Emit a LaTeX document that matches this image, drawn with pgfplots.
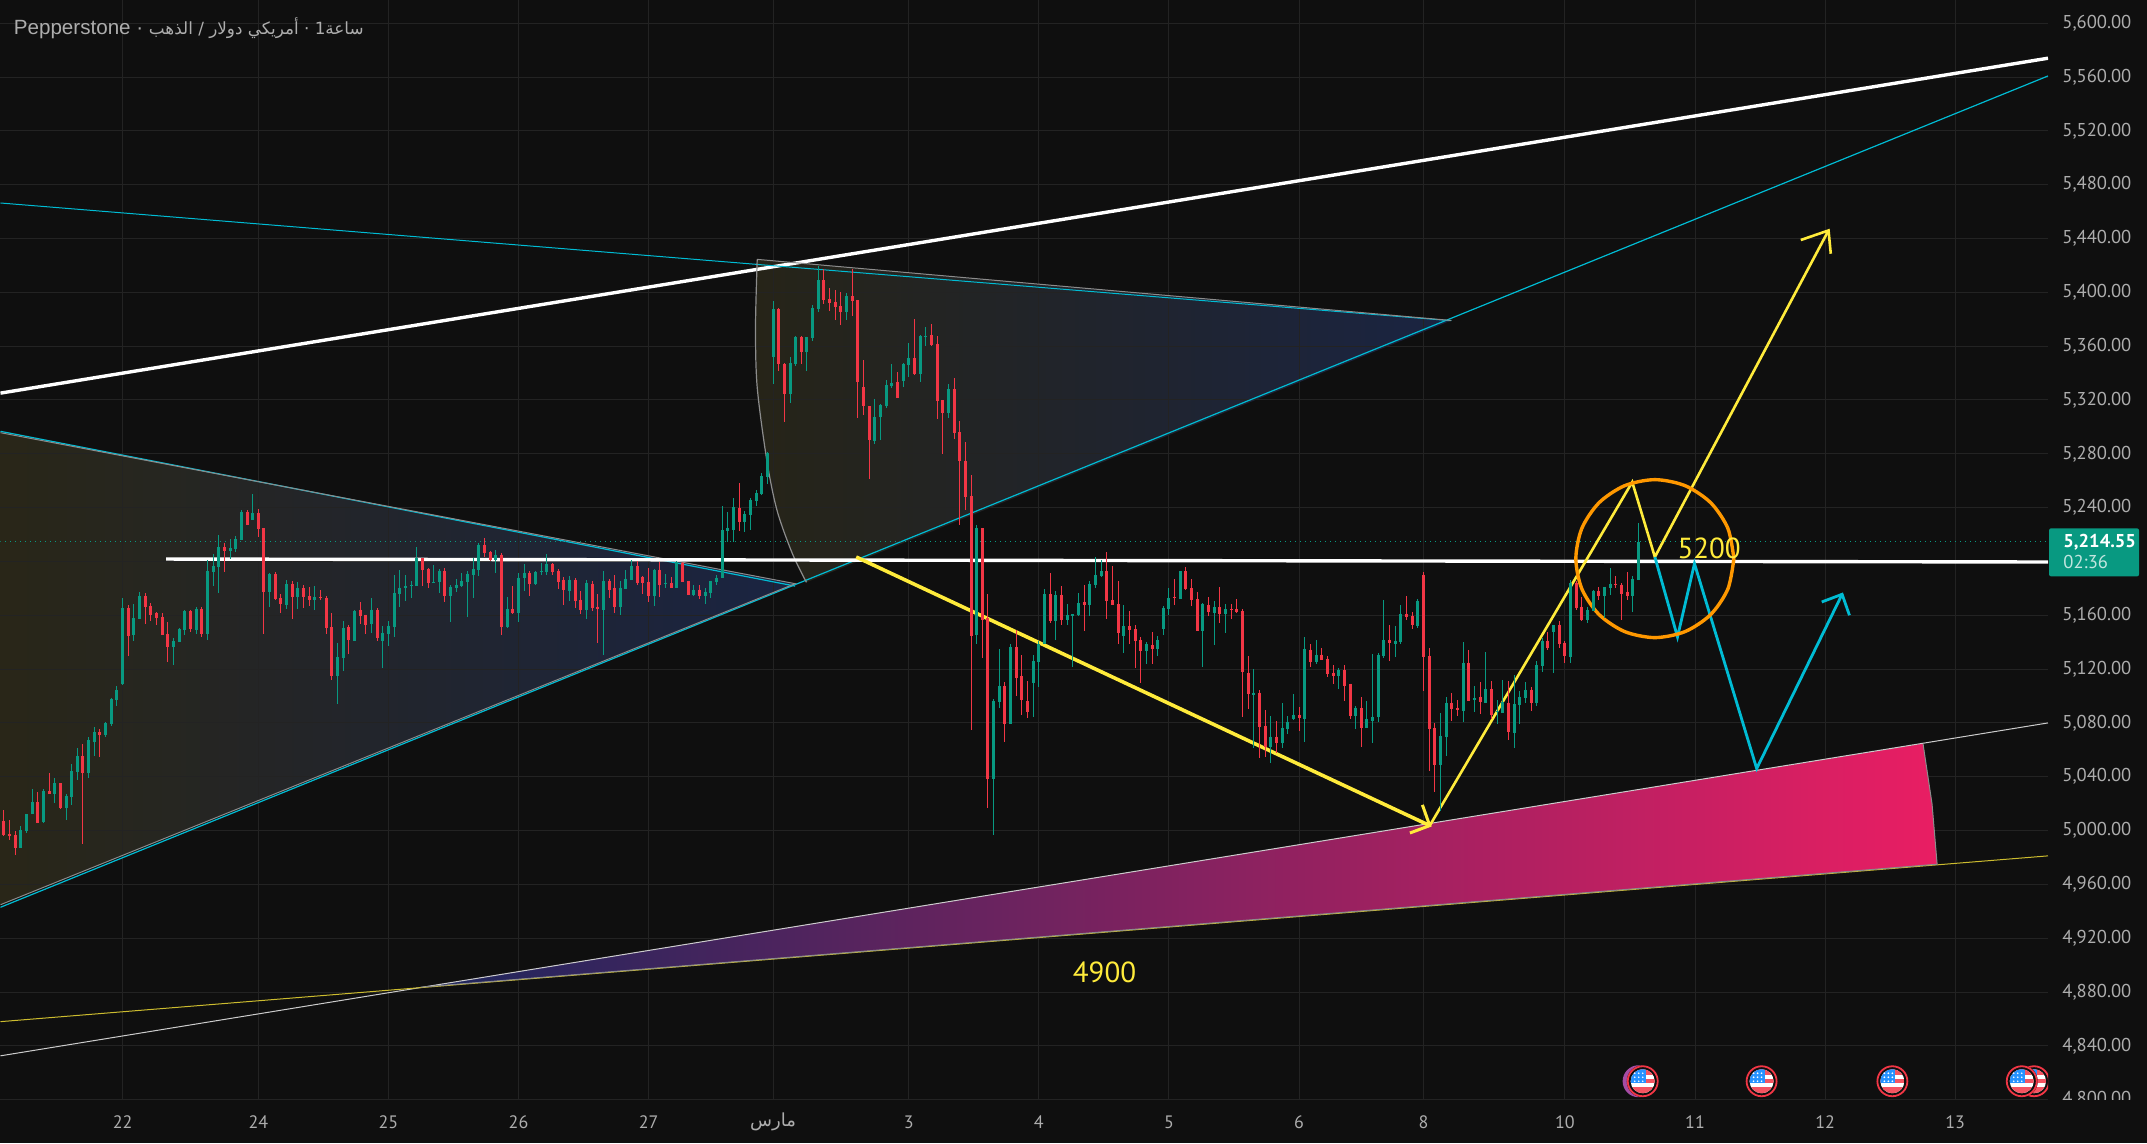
\documentclass[border=0pt]{standalone}
\usepackage{fontspec}
\usepackage{pgfplots}
\usepackage{pgfplotstable}
\pgfplotsset{compat=1.18}
\setmainfont{PT Sans}
\newfontfamily\titlefont{Liberation Sans}
\newfontfamily\arabicfont[Script=Arabic]{DejaVu Sans}
\TeXXeTstate=1
\definecolor{bg}{HTML}{0F0F0F}
\definecolor{gridc}{HTML}{232323}
\definecolor{cup}{HTML}{089981}
\definecolor{cdn}{HTML}{F23645}
\definecolor{lbl}{HTML}{ADADAD}
\definecolor{cyanl}{HTML}{00BCD4}
\definecolor{yel}{HTML}{FFEB3B}
\definecolor{grayl}{HTML}{8C8C8C}
\definecolor{orangel}{HTML}{FF9800}

% hourly candles: bar, up(1)/down(0), high, body top, body bottom, low
\pgfplotstableread{
i d h t b l
0 0 5015.1 5006.9 4996.5 4995.8
1 0 5007.6 4997.2 4995.8 4992.8
2 0 4999.5 4996.5 4987.1 4981.6
3 1 5003.2 5000.2 4987.3 4986.8
4 1 5012.1 5012.1 4999.5 4998.2
5 1 5030.7 5021.0 5012.1 5012.1
6 0 5028.5 5021.0 5005.7 5005.4
7 1 5030.7 5029.2 5006.2 5005.4
8 0 5042.6 5029.2 5027.0 5027.0
9 1 5038.9 5035.1 5027.0 5020.3
10 0 5035.1 5035.1 5016.6 5015.8
11 1 5027.0 5025.5 5016.6 5007.6
12 1 5049.3 5044.1 5024.7 5018.8
13 1 5061.1 5055.2 5043.3 5037.4
14 0 5064.1 5055.2 5042.6 4989.8
15 1 5069.3 5067.1 5042.6 5038.9
16 1 5076.8 5073.0 5065.6 5055.2
17 0 5075.3 5073.0 5070.8 5054.5
18 1 5080.5 5079.7 5070.8 5069.3
19 1 5098.3 5097.6 5079.0 5077.5
20 1 5107.2 5104.3 5096.8 5092.4
21 1 5172.6 5165.2 5108.7 5108.0
22 0 5167.4 5165.2 5144.4 5129.5
23 1 5168.2 5157.8 5145.1 5140.7
24 1 5177.1 5174.1 5157.0 5157.0
25 0 5176.3 5174.1 5166.0 5153.3
26 0 5168.9 5166.7 5160.0 5155.5
27 0 5162.2 5161.5 5157.8 5152.5
28 0 5161.5 5158.5 5145.1 5145.1
29 0 5154.8 5145.9 5136.2 5125.1
30 1 5142.9 5140.7 5136.2 5122.8
31 1 5150.3 5149.6 5139.9 5139.9
32 1 5163.7 5163.0 5148.8 5145.1
33 0 5163.7 5163.0 5149.6 5147.4
34 1 5165.9 5164.4 5148.8 5145.9
35 0 5165.9 5164.4 5145.9 5143.6
36 1 5200.9 5192.7 5145.9 5141.4
37 1 5205.3 5196.4 5191.9 5181.5
38 1 5219.4 5210.5 5195.6 5176.3
39 0 5213.5 5210.5 5207.5 5191.9
40 1 5216.5 5209.8 5207.5 5201.6
41 1 5218.7 5216.5 5209.0 5206.8
42 1 5238.0 5236.5 5215.7 5215.7
43 0 5238.0 5236.5 5226.9 5226.9
44 1 5249.9 5235.8 5230.6 5230.6
45 0 5238.7 5235.8 5223.9 5217.9
46 0 5224.6 5224.6 5177.1 5145.9
47 1 5191.2 5190.4 5177.1 5165.9
48 0 5191.9 5190.4 5171.9 5171.1
49 0 5175.6 5172.6 5168.2 5161.5
50 1 5186.0 5183.0 5167.4 5164.4
51 0 5185.2 5183.0 5173.4 5157.0
52 1 5184.5 5180.0 5173.4 5164.4
53 0 5182.3 5180.0 5173.4 5165.2
54 0 5180.8 5174.1 5171.1 5166.7
55 1 5181.5 5173.4 5171.1 5163.7
56 0 5178.6 5173.4 5172.6 5171.1
57 0 5174.1 5172.6 5150.3 5145.9
58 0 5161.5 5151.1 5114.6 5111.7
59 1 5139.2 5128.8 5114.6 5093.8
60 1 5155.5 5150.3 5128.0 5118.4
61 0 5152.5 5151.1 5141.4 5131.0
62 1 5163.9 5163.4 5141.1 5141.1
63 0 5170.1 5164.2 5159.7 5153.8
64 0 5160.5 5160.5 5153.0 5146.3
65 1 5173.1 5164.2 5153.8 5147.1
66 0 5165.4 5164.2 5143.4 5141.1
67 1 5152.3 5147.1 5141.1 5121.1
68 1 5156.0 5152.3 5146.3 5137.4
69 1 5190.2 5176.8 5151.5 5144.1
70 1 5193.9 5180.5 5176.0 5166.4
71 1 5190.2 5182.0 5180.5 5170.9
72 1 5185.7 5182.7 5182.0 5173.1
73 1 5211.0 5202.6 5182.0 5182.0
74 0 5202.6 5202.6 5193.9 5182.0
75 0 5195.4 5194.6 5184.2 5180.5
76 1 5197.6 5185.0 5184.2 5184.2
77 1 5194.6 5193.1 5185.0 5176.8
78 0 5195.4 5193.1 5174.6 5170.1
79 1 5182.7 5181.3 5174.6 5155.2
80 1 5187.2 5182.7 5180.5 5177.5
81 1 5191.7 5185.7 5182.0 5181.3
82 1 5193.1 5190.9 5185.0 5159.0
83 1 5202.8 5194.6 5190.2 5173.1
84 1 5214.0 5212.5 5193.9 5189.4
85 0 5217.7 5212.5 5206.5 5203.5
86 0 5208.0 5207.3 5201.3 5200.6
87 1 5208.7 5205.0 5201.3 5191.7
88 0 5206.5 5205.0 5151.5 5145.6
89 1 5173.8 5164.9 5151.5 5150.8
90 0 5182.0 5164.9 5161.9 5161.2
91 1 5191.7 5187.9 5161.9 5155.2
92 1 5198.3 5191.7 5187.9 5178.3
93 0 5193.1 5191.7 5183.5 5174.6
94 1 5193.1 5192.4 5183.5 5182.7
95 1 5199.1 5193.1 5192.4 5190.2
96 1 5205.8 5198.3 5192.4 5190.2
97 0 5199.1 5198.3 5192.4 5190.2
98 0 5194.6 5193.1 5185.0 5179.8
99 0 5188.7 5186.5 5179.0 5167.9
100 1 5189.4 5186.5 5178.3 5170.9
101 0 5187.9 5186.5 5170.9 5165.6
102 0 5178.3 5171.6 5164.2 5161.2
103 1 5186.5 5184.2 5164.2 5157.5
104 0 5185.7 5183.5 5165.6 5163.4
105 0 5176.1 5166.4 5164.9 5139.6
106 1 5193.1 5185.7 5164.2 5130.7
107 0 5187.2 5185.7 5179.0 5173.1
108 0 5190.2 5180.5 5166.4 5162.0
109 1 5185.7 5180.5 5166.4 5160.4
110 1 5193.9 5187.2 5179.8 5179.8
111 1 5201.3 5196.9 5186.5 5186.5
112 0 5200.6 5196.9 5184.2 5182.7
113 0 5189.4 5188.7 5184.2 5176.1
114 0 5195.4 5185.0 5174.6 5170.1
115 1 5194.6 5193.9 5174.6 5167.1
116 0 5199.8 5193.9 5182.7 5173.8
117 1 5190.9 5184.2 5183.5 5180.5
118 0 5188.7 5184.2 5180.5 5180.5
119 1 5200.6 5199.8 5180.5 5180.5
120 0 5199.8 5199.1 5185.0 5185.0
121 0 5185.7 5185.7 5175.3 5175.3
122 1 5182.7 5179.0 5175.3 5174.6
123 0 5182.7 5179.0 5174.6 5172.3
124 1 5180.5 5177.5 5174.6 5168.6
125 1 5185.7 5185.7 5176.8 5173.1
126 1 5190.2 5187.9 5185.0 5182.7
127 1 5241.0 5223.2 5187.7 5187.7
128 1 5236.5 5224.6 5222.4 5214.2
129 1 5246.9 5240.3 5223.2 5214.2
130 0 5258.1 5239.5 5229.1 5222.4
131 1 5237.3 5235.1 5229.1 5221.7
132 1 5246.9 5245.4 5234.3 5223.2
133 1 5252.9 5250.7 5244.7 5241.0
134 1 5265.5 5263.3 5249.9 5249.2
135 1 5281.1 5280.4 5262.5 5257.3
136 1 5393.3 5387.4 5351.7 5331.7
137 0 5388.1 5387.4 5346.5 5341.3
138 0 5347.3 5346.5 5324.2 5303.4
139 1 5351.7 5347.3 5324.2 5317.5
140 1 5367.3 5366.6 5346.5 5345.0
141 0 5367.3 5366.6 5355.4 5346.5
142 1 5366.6 5366.6 5355.4 5341.3
143 1 5390.4 5388.1 5365.8 5363.6
144 1 5419.3 5409.0 5387.4 5385.2
145 0 5417.1 5409.0 5394.1 5391.1
146 0 5403.0 5394.8 5391.8 5385.9
147 0 5401.5 5392.6 5388.9 5379.2
148 0 5400.0 5389.6 5385.2 5375.5
149 1 5399.3 5397.0 5385.2 5379.2
150 0 5417.1 5397.0 5393.3 5382.2
151 0 5394.1 5394.1 5333.1 5306.4
152 0 5349.5 5329.4 5315.3 5308.6
153 0 5315.3 5315.3 5290.0 5261.1
154 1 5320.5 5307.1 5289.3 5287.1
155 1 5316.8 5316.0 5307.1 5290.0
156 1 5334.6 5330.9 5315.3 5313.8
157 1 5346.5 5332.4 5330.2 5328.7
158 0 5340.6 5333.1 5321.3 5321.3
159 1 5347.3 5346.5 5333.9 5329.4
160 1 5362.1 5351.0 5345.8 5336.9
161 0 5380.0 5351.0 5339.1 5338.3
162 1 5368.1 5367.3 5339.1 5333.1
163 1 5374.0 5367.3 5366.6 5359.9
164 0 5376.2 5368.1 5360.6 5359.9
165 0 5367.3 5361.4 5319.0 5305.6
166 0 5319.8 5319.8 5310.1 5279.6
167 1 5331.7 5328.0 5310.1 5306.4
168 0 5336.1 5328.0 5295.2 5290.8
169 0 5304.2 5296.0 5274.4 5226.9
170 0 5288.6 5274.4 5247.7 5238.0
171 0 5264.0 5248.4 5144.3 5074.5
172 1 5226.8 5224.6 5145.1 5138.4
173 0 5224.6 5224.6 5156.2 5128.0
174 0 5175.6 5157.7 5038.1 5016.5
175 1 5097.5 5096.0 5038.1 4996.5
176 1 5134.7 5107.2 5095.3 5090.8
177 0 5110.2 5107.2 5078.9 5065.6
178 1 5138.4 5136.2 5078.9 5078.9
179 0 5148.8 5136.2 5113.1 5099.8
180 0 5130.2 5114.6 5096.8 5085.6
181 0 5110.9 5096.0 5087.9 5083.4
182 1 5130.2 5125.8 5109.4 5084.1
183 1 5140.6 5138.4 5125.0 5106.4
184 1 5179.3 5175.6 5138.4 5138.4
185 0 5191.2 5175.6 5155.5 5154.0
186 1 5177.8 5174.8 5155.5 5141.4
187 0 5181.5 5174.8 5156.2 5152.5
188 1 5168.1 5160.0 5156.2 5152.5
189 1 5160.7 5160.7 5159.2 5121.3
190 1 5176.3 5168.9 5159.9 5159.2
191 0 5182.2 5169.6 5167.4 5148.1
192 1 5185.2 5183.0 5167.4 5159.2
193 1 5203.0 5189.7 5182.2 5180.0
194 1 5200.8 5192.6 5188.9 5188.2
195 0 5206.8 5192.6 5170.3 5157.0
196 0 5196.4 5171.1 5167.4 5167.4
197 0 5185.2 5168.1 5146.6 5138.4
198 1 5167.4 5151.8 5144.3 5131.7
199 0 5162.9 5151.8 5148.8 5138.4
200 0 5152.5 5149.5 5140.6 5120.6
201 0 5143.6 5141.4 5133.2 5109.4
202 1 5139.9 5138.4 5133.2 5123.5
203 0 5147.3 5137.6 5134.7 5123.5
204 1 5144.3 5141.4 5134.7 5129.5
205 1 5166.6 5165.1 5149.5 5145.1
206 1 5180.0 5172.6 5164.4 5160.0
207 0 5186.7 5173.3 5172.6 5167.4
208 1 5192.6 5192.6 5171.8 5171.8
209 0 5195.6 5192.6 5179.3 5178.5
210 0 5186.7 5180.0 5171.1 5166.6
211 0 5177.0 5171.8 5148.1 5148.1
212 1 5168.9 5168.1 5148.1 5121.3
213 0 5173.3 5167.4 5162.2 5159.2
214 1 5170.3 5165.9 5161.4 5137.6
215 0 5180.8 5165.9 5160.7 5154.0
216 1 5168.1 5164.4 5160.7 5146.6
217 0 5168.1 5164.4 5163.7 5157.0
218 0 5171.8 5164.4 5162.2 5161.4
219 0 5164.4 5162.9 5117.6 5084.1
220 0 5130.0 5117.3 5101.7 5090.6
221 1 5120.3 5102.5 5101.0 5061.6
222 0 5104.7 5102.5 5077.2 5054.2
223 0 5089.9 5078.0 5062.4 5054.9
224 1 5085.4 5069.8 5062.4 5050.5
225 0 5081.7 5069.8 5065.3 5057.9
226 1 5095.1 5076.5 5065.3 5061.6
227 1 5085.4 5081.0 5075.7 5072.0
228 1 5101.7 5086.1 5083.2 5082.4
229 0 5092.1 5086.1 5083.9 5074.2
230 1 5144.1 5135.2 5083.2 5066.1
231 0 5138.9 5134.4 5125.5 5121.8
232 1 5141.9 5130.7 5125.5 5124.0
233 0 5135.9 5130.7 5127.0 5127.0
234 0 5130.0 5127.8 5116.6 5114.4
235 0 5123.3 5117.3 5115.1 5109.2
236 1 5121.1 5119.6 5115.1 5105.5
237 0 5123.3 5119.6 5107.7 5096.5
238 0 5109.2 5109.2 5085.4 5083.2
239 1 5092.8 5091.3 5085.4 5075.7
240 0 5099.5 5091.3 5076.5 5062.4
241 1 5096.5 5083.2 5076.5 5076.5
242 1 5131.5 5084.6 5081.7 5065.3
243 1 5132.2 5130.7 5084.6 5081.0
244 1 5171.6 5141.9 5130.0 5128.5
245 0 5153.0 5141.9 5139.6 5126.3
246 1 5152.3 5141.1 5138.9 5129.2
247 1 5167.9 5161.2 5140.4 5138.9
248 0 5174.6 5161.2 5159.0 5156.7
249 0 5162.7 5159.7 5153.0 5150.0
250 1 5172.3 5170.9 5152.3 5150.8
251 0 5192.4 5190.2 5129.2 5104.0
252 0 5135.9 5130.0 5075.7 5044.5
253 0 5080.2 5076.5 5049.0 5028.9
254 1 5087.6 5070.5 5049.0 5014.8
255 1 5099.5 5095.1 5069.8 5055.7
256 0 5102.5 5095.1 5090.6 5081.7
257 0 5097.3 5091.3 5089.9 5085.4
258 1 5140.4 5124.8 5089.1 5081.0
259 0 5134.4 5124.8 5096.5 5096.5
260 1 5107.7 5098.8 5097.3 5088.4
261 0 5110.7 5099.5 5095.8 5086.9
262 1 5133.0 5105.5 5095.1 5095.1
263 0 5111.4 5105.5 5086.1 5083.2
264 1 5097.3 5089.1 5088.4 5079.5
265 1 5112.2 5095.8 5087.6 5087.6
266 0 5111.4 5095.1 5073.5 5067.6
267 1 5115.9 5094.3 5072.8 5061.6
268 1 5104.0 5099.5 5093.6 5079.5
269 1 5110.7 5104.7 5098.8 5095.1
270 0 5106.9 5104.7 5095.1 5089.1
271 1 5126.3 5123.3 5095.1 5092.8
272 1 5143.4 5141.1 5122.6 5118.1
273 0 5147.8 5141.1 5135.9 5134.4
274 1 5153.0 5153.0 5147.8 5117.3
275 0 5156.0 5153.0 5138.9 5135.9
276 0 5141.1 5139.6 5130.0 5124.8
277 1 5186.5 5184.2 5129.2 5124.8
278 0 5185.7 5184.2 5165.6 5164.2
279 0 5173.8 5166.4 5156.7 5156.0
280 1 5166.4 5164.2 5156.7 5154.5
281 1 5179.0 5178.3 5163.4 5163.4
282 0 5181.3 5178.3 5174.6 5171.6
283 1 5181.3 5181.3 5174.6 5158.2
284 1 5195.4 5183.5 5180.5 5175.3
285 0 5189.4 5183.5 5182.7 5180.5
286 0 5184.2 5182.7 5176.1 5156.7
287 0 5192.4 5177.5 5174.6 5171.6
288 1 5189.4 5187.2 5174.6 5162.7
289 1 5228.8 5214.7 5186.5 5186.5
}\candles

\pgfplotsset{
    layers/chart/.define layer set={pagebg,axis background,axis grid,axis ticks,axis lines,axis tick labels,main,axis descriptions,axis foreground}{},
    wick/.style={draw=none, no markers, forget plot,
        restrict expr to domain={\thisrow{d}}{#1:#1},
        error bars/y dir=both, error bars/y explicit, error bars/error mark=none},
}

% flag icon, in the pixel scope below
\newcommand{\usflag}[1]{%
\begin{scope}[shift={(#1,1081)}]
    \fill[bg] (0,0) circle (8pt);
    \draw[cdn, line width=0.9pt] (0,0) circle (7.5pt);
    \begin{scope}
        \clip (0,0) circle (6pt);
        \fill[white] (-13,-13) rectangle (13,13);
        \fill[cdn!85!white] (-13,-13) rectangle (13,-6);
        \fill[cdn!85!white] (-13,-2) rectangle (13,2);
        \fill[cdn!85!white] (-13,6) rectangle (13,13);
        \fill[blue!50!cyan!85!white] (-13,-13) rectangle (3,2);
        \foreach \xx in {-8,-4,0} \foreach \yy in {-8,-4,0}
            \fill[white] (\xx,\yy) circle (0.45pt);
    \end{scope}
\end{scope}}

\begin{document}
\begin{tikzpicture}
    \pgfplotsset{set layers=chart}
    \begin{pgfonlayer}{pagebg}
        \fill[bg] (0,0) rectangle (1073.5pt,571.5pt);
    \end{pgfonlayer}
    \begin{axis}[
        at={(0,21.5pt)}, anchor=south west,
        scale only axis, width=1024pt, height=550pt,
        set layers=chart,
        xmin=-0.58, xmax=361.4,
        ymin=4799.6, ymax=5616.9,
        axis line style={draw=none},
        major tick length=0pt,
        grid=major,
        grid style={gridc, line width=0.5pt},
        xtick={21,45,68,91,114,136,160,183,206,229,251,276,299,322,345},
        xticklabels={22,24,25,26,27,{\arabicfont\beginR مارس\endR},3,4,5,6,8,10,11,12,13},
        xticklabel style={lbl, font=\fontsize{9}{9}\selectfont, inner sep=0pt, anchor=center, yshift=-11pt},
        ytick={4800,4840,...,5600},
        % 5,200.00 sits under the price tag in the reference
        yticklabels={{4,800.00},{4,840.00},{4,880.00},{4,920.00},{4,960.00},{5,000.00},{5,040.00},{5,080.00},{5,120.00},{5,160.00},{},{5,240.00},{5,280.00},{5,320.00},{5,360.00},{5,400.00},{5,440.00},{5,480.00},{5,520.00},{5,560.00},{5,600.00}},
        yticklabel pos=right,
        yticklabel style={lbl, font=\fontsize{9.3}{9.3}\selectfont, inner sep=0pt, anchor=west, xshift=7pt},
    ]
    % gradient wedges, under the grid
    \addplot[on layer=axis background, draw=none, forget plot,
        left color={rgb,255:red,41;green,38;blue,24}, middle color={rgb,255:red,33;green,35;blue,33}, right color={rgb,255:red,26;green,36;blue,66}]
        coordinates {(-0.58,5295.7) (139.9,5183.5) (-0.58,4944.9)} -- cycle;
    \addplot[on layer=axis background, draw=none, forget plot,
        left color={rgb,255:red,38;green,36;blue,24}, middle color={rgb,255:red,36;green,37;blue,31}, right color={rgb,255:red,26;green,36;blue,66}]
        coordinates {(133.2,5424.5) (255.9,5379.1) (141.9,5184.5) (139.4,5206) (136.7,5238) (134.9,5275.1) (133.2,5329.4) (132.9,5374)} -- cycle;
    % the pink wedge hides the grid
    \addplot[draw=none, forget plot,
        left color={rgb,255:red,28;green,38;blue,92}, middle color={rgb,255:red,136;green,44;blue,120}, right color={rgb,255:red,233;green,30;blue,99}]
        coordinates {(73.7,4883.6) (339.3,5064.7) (340.9,5019.8) (341.8,4975)} -- cycle;

    % trend lines
    \addplot[white, line width=1.7pt, forget plot] coordinates {(-0.58,5325.1) (361.4,5574)};
    \addplot[cyanl, line width=0.5pt, forget plot] coordinates {(-0.58,5466.4) (255.9,5378.9)};
    \addplot[cyanl, line width=0.6pt, forget plot] coordinates {(-0.58,4943) (361.4,5560.8)};
    \addplot[cyanl, line width=0.6pt, forget plot] coordinates {(-0.58,5296.7) (139.9,5181.7)};
    \addplot[grayl, line width=0.5pt, forget plot] coordinates {(-0.58,5295.7) (139.9,5183.5) (-0.58,4944.9)};
    \addplot[grayl, line width=0.6pt, smooth, forget plot] coordinates {(133.2,5424.5) (132.9,5374) (133.2,5329.4) (134.9,5275.1) (136.7,5238) (139.4,5206) (141.9,5184.5)};
    \addplot[grayl, line width=0.5pt, forget plot] coordinates {(133.2,5424.5) (255.9,5379.1)};
    \addplot[white!80!black, line width=0.5pt, forget plot] coordinates {(-0.58,4832.6) (361.4,5080)};
    \addplot[yel!80!black, line width=0.5pt, forget plot] coordinates {(-0.58,4858) (361.4,4981.2)};
    \addplot[grayl, line width=0.5pt, forget plot] coordinates {(73.7,4883.6) (341.8,4975) (340.9,5019.8) (339.3,5064.7)};
    \addplot[white, line width=1.7pt, forget plot] coordinates {(28.7,5201.8) (361.4,5199.6)};
    \addplot[cup, line width=0.5pt, dotted, forget plot] coordinates {(-0.58,5214.55) (361.4,5214.55)};

    % drawn scenario
    \addplot[yel, line width=1.8pt, forget plot] coordinates {(150.7,5203.3) (252.1,5003.7)};
    \addplot[yel, line width=1.5pt, forget plot] coordinates {(250.8,5019.1) (252.1,5003.7) (248.6,4998.2)};
    \addplot[yel, line width=1.3pt, forget plot] coordinates {(252.1,5003.7) (287.9,5259) (291.9,5203.3) (322.6,5446)};
    \addplot[yel, line width=1.3pt, forget plot] coordinates {(317.7,5438.9) (322.6,5446) (323,5428.7)};
    \addplot[cyanl, line width=1.4pt, forget plot] coordinates {(291.9,5203.3) (295.9,5143.9) (298.9,5198.4) (309.9,5046.1) (325,5175.6)};
    \addplot[cyanl, line width=1.4pt, forget plot] coordinates {(321.4,5169.9) (325,5175.6) (326.3,5160)};
    \addplot[orangel, line width=1.7pt, smooth, forget plot] coordinates {
        (305.87,5202.1) (304.81,5224.6) (301.78,5243.6) (297.25,5256.3) (291.9,5260.8)
        (286.55,5256.3) (282.02,5243.6) (278.99,5224.6) (277.93,5202.1) (278.99,5179.6)
        (282.02,5160.6) (286.55,5147.9) (291.9,5143.4) (297.25,5147.9) (301.78,5160.6)
        (304.81,5179.6) (305.87,5202.1)};

    % candles: wick, then body
    \addplot[wick=1, error bars/error bar style={draw=cup, solid, line width=0.5pt}]
        table[x=i, y=t, y error plus expr=\thisrow{h}-\thisrow{t}, y error minus expr=\thisrow{t}-\thisrow{l}] {\candles};
    \addplot[wick=0, error bars/error bar style={draw=cdn, solid, line width=0.5pt}]
        table[x=i, y=t, y error plus expr=\thisrow{h}-\thisrow{t}, y error minus expr=\thisrow{t}-\thisrow{l}] {\candles};
    \addplot[wick=1, error bars/error bar style={draw=cup, solid, line width=1.5pt}]
        table[x=i, y=t, y error plus expr=0, y error minus expr=\thisrow{t}-\thisrow{b}] {\candles};
    \addplot[wick=0, error bars/error bar style={draw=cdn, solid, line width=1.5pt}]
        table[x=i, y=t, y error plus expr=0, y error minus expr=\thisrow{t}-\thisrow{b}] {\candles};

    \node[yel, font=\fontsize{14.5}{14.5}\selectfont, inner sep=0pt] at (axis cs:301.5,5209.8) {5200};
    \node[yel, font=\fontsize{14.5}{14.5}\selectfont, inner sep=0pt] at (axis cs:194.6,4894.8) {4900};
    \end{axis}

    % page furniture, in reference pixels
    \begin{scope}[x=0.5pt, y=-0.5pt, yshift=571.5pt]
        \fill[bg] (2048,1100) rectangle (2147,1143);
        \fill[cup, rounded corners=1pt] (2049,528) rectangle (2139,576);
        \node[white, anchor=west, inner sep=0pt, font=\fontsize{9.3}{9.3}\selectfont\bfseries] at (2063,541.5) {5,214.55};
        \node[white!75!cup, anchor=west, inner sep=0pt, font=\fontsize{9.3}{9.3}\selectfont] at (2063,561.5) {02:36};
        \node[lbl, anchor=west, inner sep=0pt, font=\fontsize{10.3}{10.3}\titlefont] at (13,28)
            {Pepperstone · {\fontsize{8.4}{8.4}\arabicfont\beginR ساعة\kern0pt 1 · أمريكي دولار / الذهب\endR}};
        \begin{scope}
            \clip (1600,1060) rectangle (2048,1100);
            \fill[violet!70!white] (1638.5,1081) circle (8pt);
            \usflag{1642.6}
            \usflag{1761.5}
            \usflag{1892.3}
            \usflag{2034}
            \usflag{2021.7}
        \end{scope}
    \end{scope}
\end{tikzpicture}
\end{document}
